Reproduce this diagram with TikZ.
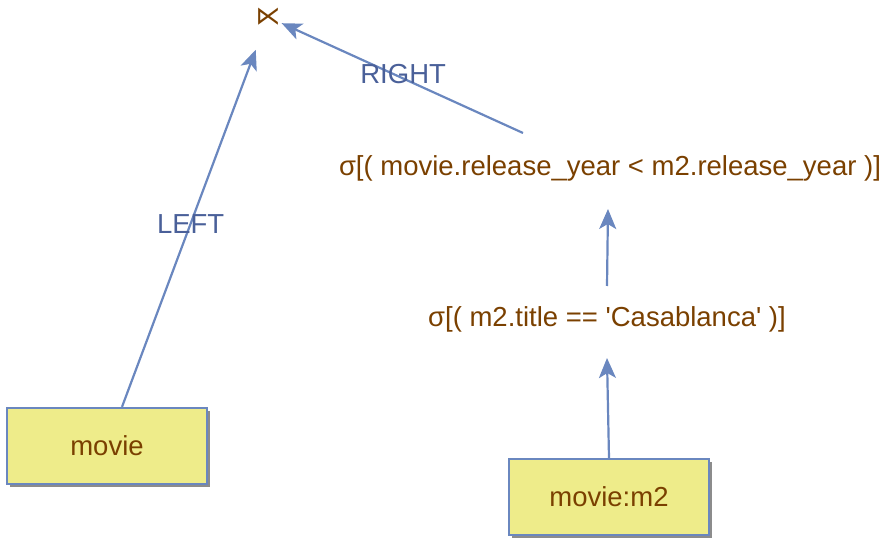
\documentclass[tikz,border=0pt]{standalone}
\usepackage{fontspec}
\newfontfamily\arialfont{Liberation Sans}
\newfontfamily\symfont{DejaVu Sans}
\usetikzlibrary{positioning,shadows,arrows.meta}
\definecolor{relText}{RGB}{122,64,0}
\definecolor{edgeBlue}{RGB}{106,135,191}
\definecolor{lblBlue}{RGB}{74,96,153}
\definecolor{relFill}{RGB}{238,236,138}
\tikzset{
  relation/.style={rectangle, fill=relFill, draw=edgeBlue, line width=2.2pt,
    minimum width=200pt, minimum height=76pt, text=relText,
    drop shadow={shadow xshift=3pt, shadow yshift=-3pt, opacity=1, fill=gray!90}},
  selection/.style={text=relText},
  joinSym/.style={text=relText, font=\symfont\fontsize{25}{27}\selectfont},
  edgeLabel/.style={text=lblBlue},
  applyOp/.style={draw=edgeBlue, line width=2.2pt, -{Stealth[length=20pt,width=17pt,inset=5pt]}}
}
\begin{document}
\begin{tikzpicture}[x=1pt, y=-1pt, font=\arialfont\fontsize{27.5}{30}\selectfont]
  \useasboundingbox (0,0) rectangle (892,545);
  \node [joinSym] (join) at (268,17) {⋉};
  \node [selection] (selYear) at (610,168) {σ[( movie.release\_year < m2.release\_year )]};
  \node [selection] (selTitle) at (607,319) {σ[( m2.title == 'Casablanca' )]};
  \node [relation] (movieRel) at (107,446) {movie};
  \node [relation] (movieAlias) at (609,497) {movie:m2};
  \draw [applyOp, shorten >=35pt] ([xshift=15pt]movieRel.north) -- node[edgeLabel, pos=0.47] {LEFT} (join.center);
  \draw [applyOp, shorten >=15pt] ([xshift=-87pt, yshift=35pt]selYear.center) -- node[edgeLabel, pos=0.47, yshift=4pt] {RIGHT} (join.center);
  \draw [applyOp] ([yshift=33pt]selTitle.center) -- ([xshift=-2pt, yshift=-41pt]selYear.center);
  \draw [applyOp] (movieAlias.north) -- ([yshift=-39pt]selTitle.center);
\end{tikzpicture}
\end{document}
